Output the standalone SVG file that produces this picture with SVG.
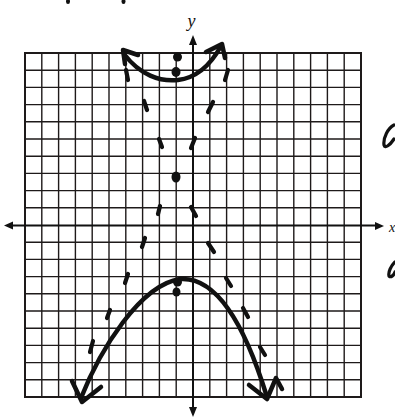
<svg xmlns="http://www.w3.org/2000/svg" width="395" height="418" viewBox="0 0 395 418">
<defs>
<style>
.g{stroke:#1e1a1a;stroke-width:1.4;fill:none}
.ax{stroke:#111;stroke-width:2;fill:none}
.cur{stroke:#111;stroke-width:4.5;fill:none;stroke-linecap:round;stroke-linejoin:round}
.ds{stroke:#111;stroke-width:4.2;stroke-linecap:round}
.dot{fill:#111}
.lbl{font-family:"Liberation Serif",serif;font-style:italic;fill:#111}
.hw{stroke:#111;stroke-width:3.2;fill:none;stroke-linecap:round}
</style>
</defs>
<rect width="395" height="418" fill="#fff"/>
<g id="grid">
<path class="g" d="M25,53V397M41.8,53V397M58.6,53V397M75.4,53V397M92.2,53V397M109,53V397M125.8,53V397M142.6,53V397M159.4,53V397M176.2,53V397M209.8,53V397M226.6,53V397M243.4,53V397M260.2,53V397M277,53V397M293.8,53V397M310.6,53V397M327.4,53V397M344.2,53V397"/>
<path class="g" d="M25,70.2H361M25,87.4H361M25,104.6H361M25,121.8H361M25,139H361M25,156.2H361M25,173.4H361M25,190.6H361M25,207.8H361M25,242.2H361M25,259.4H361M25,276.6H361M25,293.8H361M25,311H361M25,328.2H361M25,345.4H361M25,362.6H361M25,379.8H361"/>
<rect x="25" y="53" width="336" height="344" fill="none" stroke="#1e1a1a" stroke-width="2"/>
</g>
<g id="axes">
<path class="ax" d="M9,225.5H379"/>
<path class="ax" d="M193,40V412"/>
<path fill="#111" d="M4,225.5L13,221.5V229.5Z"/>
<path fill="#111" d="M384,226L375,222V230Z"/>
<path fill="#111" d="M193,35L189,45H197Z"/>
<path fill="#111" d="M193,417L189,407H197Z"/>
<text class="lbl" x="187.5" y="27" font-size="18">y</text>
<text class="lbl" x="389" y="232" font-size="14">x</text>
</g>
<g id="asymptotes">
<line class="ds" x1="126" y1="70" x2="128" y2="80"/>
<line class="ds" x1="144" y1="101" x2="147" y2="110"/>
<line class="ds" x1="159" y1="139" x2="162" y2="147"/>
<line class="ds" x1="160" y1="206" x2="158" y2="214"/>
<line class="ds" x1="145" y1="238" x2="142" y2="247"/>
<line class="ds" x1="128" y1="274" x2="125" y2="283"/>
<line class="ds" x1="110" y1="310" x2="107" y2="318"/>
<line class="ds" x1="93" y1="341" x2="90" y2="352"/>
<line class="ds" x1="228" y1="70" x2="225" y2="80"/>
<line class="ds" x1="213" y1="102" x2="208" y2="112"/>
<line class="ds" x1="195" y1="138" x2="191" y2="148"/>
<line class="ds" x1="191" y1="207" x2="196" y2="216"/>
<line class="ds" x1="208" y1="243" x2="214" y2="252"/>
<line class="ds" x1="226" y1="278" x2="231" y2="286"/>
<line class="ds" x1="243" y1="308" x2="248" y2="317"/>
<line class="ds" x1="260" y1="347" x2="265" y2="355"/>
</g>
<g id="upper-branch">
<path class="cur" d="M124,54C140,75 160,82 178,80C195,78 210,66 221,46"/>
<path class="cur" d="M125,64L123,50L138,55" stroke-width="5.5"/>
<path class="cur" d="M206,52L222,44L225,58" stroke-width="5.5"/>
</g>
<g id="lower-branch">
<path class="cur" d="M81,398C100,350 140,285 180,279C220,276 248,335 267,397"/>
<path class="cur" d="M72,381L82,402L101,387"/>
<path class="cur" d="M249,385L267,399L276,378L282,389"/>
</g>
<g id="points">
<ellipse class="dot" cx="177.5" cy="57" rx="4.5" ry="4.5"/>
<ellipse class="dot" cx="176" cy="72" rx="4.5" ry="5"/>
<ellipse class="dot" cx="176" cy="177" rx="4.5" ry="5.5"/>
<ellipse class="dot" cx="177.5" cy="282" rx="4.5" ry="4.5"/>
<ellipse class="dot" cx="176.5" cy="292" rx="4" ry="4.5"/>
</g>
<g id="margin-marks">
<ellipse class="dot" cx="68" cy="1.5" rx="2" ry="2.5"/>
<ellipse class="dot" cx="123.5" cy="1.5" rx="2" ry="2.5"/>
<path class="hw" d="M394,125C388,128 383,138 384,145C385,149 390,145 394,139"/>
<path class="hw" d="M395,262C391,266 388,272 389,276C391,278 394,275 395,272"/>
</g>
</svg>
